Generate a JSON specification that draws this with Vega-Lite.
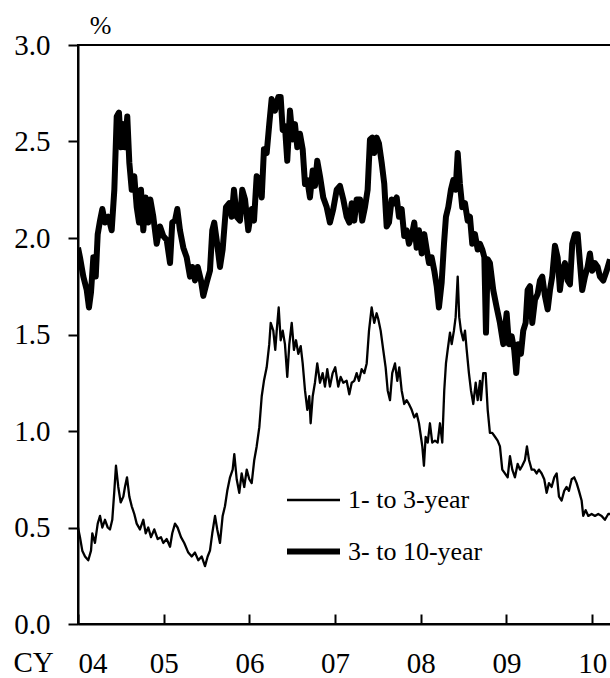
{
  "$schema": "https://vega.github.io/schema/vega-lite/v6.json",
  "autosize": {"type": "none"},
  "padding": {"left": 78, "top": 45, "right": 0, "bottom": 54},
  "width": 533,
  "height": 579,
  "background": "white",
  "config": {
    "font": "Liberation Serif",
    "view": {"stroke": "black", "strokeWidth": 2},
    "axis": {"grid": false, "domainColor": "black", "domainWidth": 2, "tickColor": "black", "tickWidth": 2, "labelColor": "black", "titleColor": "black", "labelFont": "Liberation Serif", "titleFont": "Liberation Serif", "labelFontSize": 29, "titleFontSize": 29, "titleFontWeight": "normal"}
  },
  "data": {"values": [
    {"series":"3- to 10-year","year":2004.000,"value":1.95},
    {"series":"3- to 10-year","year":2004.023,"value":1.90},
    {"series":"3- to 10-year","year":2004.062,"value":1.80},
    {"series":"3- to 10-year","year":2004.102,"value":1.73},
    {"series":"3- to 10-year","year":2004.128,"value":1.64},
    {"series":"3- to 10-year","year":2004.152,"value":1.72},
    {"series":"3- to 10-year","year":2004.179,"value":1.90},
    {"series":"3- to 10-year","year":2004.207,"value":1.80},
    {"series":"3- to 10-year","year":2004.230,"value":2.02},
    {"series":"3- to 10-year","year":2004.257,"value":2.09},
    {"series":"3- to 10-year","year":2004.284,"value":2.15},
    {"series":"3- to 10-year","year":2004.315,"value":2.08},
    {"series":"3- to 10-year","year":2004.354,"value":2.11},
    {"series":"3- to 10-year","year":2004.393,"value":2.04},
    {"series":"3- to 10-year","year":2004.424,"value":2.25},
    {"series":"3- to 10-year","year":2004.452,"value":2.63},
    {"series":"3- to 10-year","year":2004.478,"value":2.65},
    {"series":"3- to 10-year","year":2004.502,"value":2.47},
    {"series":"3- to 10-year","year":2004.529,"value":2.59},
    {"series":"3- to 10-year","year":2004.548,"value":2.47},
    {"series":"3- to 10-year","year":2004.575,"value":2.63},
    {"series":"3- to 10-year","year":2004.599,"value":2.39},
    {"series":"3- to 10-year","year":2004.627,"value":2.25},
    {"series":"3- to 10-year","year":2004.657,"value":2.32},
    {"series":"3- to 10-year","year":2004.685,"value":2.16},
    {"series":"3- to 10-year","year":2004.712,"value":2.08},
    {"series":"3- to 10-year","year":2004.735,"value":2.25},
    {"series":"3- to 10-year","year":2004.762,"value":2.04},
    {"series":"3- to 10-year","year":2004.790,"value":2.21},
    {"series":"3- to 10-year","year":2004.820,"value":2.08},
    {"series":"3- to 10-year","year":2004.844,"value":2.20},
    {"series":"3- to 10-year","year":2004.879,"value":2.11},
    {"series":"3- to 10-year","year":2004.918,"value":1.97},
    {"series":"3- to 10-year","year":2004.957,"value":2.06},
    {"series":"3- to 10-year","year":2004.995,"value":2.01},
    {"series":"3- to 10-year","year":2005.035,"value":1.99},
    {"series":"3- to 10-year","year":2005.074,"value":1.87},
    {"series":"3- to 10-year","year":2005.100,"value":2.08},
    {"series":"3- to 10-year","year":2005.132,"value":2.09},
    {"series":"3- to 10-year","year":2005.159,"value":2.15},
    {"series":"3- to 10-year","year":2005.190,"value":2.04},
    {"series":"3- to 10-year","year":2005.229,"value":1.95},
    {"series":"3- to 10-year","year":2005.268,"value":1.90},
    {"series":"3- to 10-year","year":2005.307,"value":1.80},
    {"series":"3- to 10-year","year":2005.334,"value":1.85},
    {"series":"3- to 10-year","year":2005.365,"value":1.78},
    {"series":"3- to 10-year","year":2005.397,"value":1.85},
    {"series":"3- to 10-year","year":2005.435,"value":1.78},
    {"series":"3- to 10-year","year":2005.462,"value":1.70},
    {"series":"3- to 10-year","year":2005.502,"value":1.77},
    {"series":"3- to 10-year","year":2005.540,"value":1.83},
    {"series":"3- to 10-year","year":2005.567,"value":2.04},
    {"series":"3- to 10-year","year":2005.590,"value":2.08},
    {"series":"3- to 10-year","year":2005.618,"value":1.99},
    {"series":"3- to 10-year","year":2005.657,"value":1.85},
    {"series":"3- to 10-year","year":2005.688,"value":1.94},
    {"series":"3- to 10-year","year":2005.727,"value":2.16},
    {"series":"3- to 10-year","year":2005.765,"value":2.18},
    {"series":"3- to 10-year","year":2005.793,"value":2.11},
    {"series":"3- to 10-year","year":2005.820,"value":2.25},
    {"series":"3- to 10-year","year":2005.852,"value":2.11},
    {"series":"3- to 10-year","year":2005.890,"value":2.09},
    {"series":"3- to 10-year","year":2005.917,"value":2.25},
    {"series":"3- to 10-year","year":2005.949,"value":2.20},
    {"series":"3- to 10-year","year":2005.987,"value":2.04},
    {"series":"3- to 10-year","year":2006.027,"value":2.15},
    {"series":"3- to 10-year","year":2006.054,"value":2.09},
    {"series":"3- to 10-year","year":2006.085,"value":2.32},
    {"series":"3- to 10-year","year":2006.116,"value":2.30},
    {"series":"3- to 10-year","year":2006.144,"value":2.21},
    {"series":"3- to 10-year","year":2006.170,"value":2.46},
    {"series":"3- to 10-year","year":2006.202,"value":2.44},
    {"series":"3- to 10-year","year":2006.232,"value":2.59},
    {"series":"3- to 10-year","year":2006.260,"value":2.72},
    {"series":"3- to 10-year","year":2006.299,"value":2.66},
    {"series":"3- to 10-year","year":2006.337,"value":2.73},
    {"series":"3- to 10-year","year":2006.365,"value":2.73},
    {"series":"3- to 10-year","year":2006.389,"value":2.56},
    {"series":"3- to 10-year","year":2006.415,"value":2.58},
    {"series":"3- to 10-year","year":2006.442,"value":2.40},
    {"series":"3- to 10-year","year":2006.474,"value":2.66},
    {"series":"3- to 10-year","year":2006.505,"value":2.51},
    {"series":"3- to 10-year","year":2006.532,"value":2.59},
    {"series":"3- to 10-year","year":2006.559,"value":2.47},
    {"series":"3- to 10-year","year":2006.590,"value":2.54},
    {"series":"3- to 10-year","year":2006.622,"value":2.46},
    {"series":"3- to 10-year","year":2006.649,"value":2.28},
    {"series":"3- to 10-year","year":2006.676,"value":2.30},
    {"series":"3- to 10-year","year":2006.707,"value":2.21},
    {"series":"3- to 10-year","year":2006.739,"value":2.35},
    {"series":"3- to 10-year","year":2006.765,"value":2.27},
    {"series":"3- to 10-year","year":2006.792,"value":2.40},
    {"series":"3- to 10-year","year":2006.824,"value":2.32},
    {"series":"3- to 10-year","year":2006.862,"value":2.21},
    {"series":"3- to 10-year","year":2006.902,"value":2.16},
    {"series":"3- to 10-year","year":2006.940,"value":2.08},
    {"series":"3- to 10-year","year":2006.979,"value":2.15},
    {"series":"3- to 10-year","year":2007.019,"value":2.25},
    {"series":"3- to 10-year","year":2007.057,"value":2.27},
    {"series":"3- to 10-year","year":2007.096,"value":2.20},
    {"series":"3- to 10-year","year":2007.135,"value":2.11},
    {"series":"3- to 10-year","year":2007.166,"value":2.08},
    {"series":"3- to 10-year","year":2007.194,"value":2.18},
    {"series":"3- to 10-year","year":2007.224,"value":2.09},
    {"series":"3- to 10-year","year":2007.252,"value":2.20},
    {"series":"3- to 10-year","year":2007.291,"value":2.20},
    {"series":"3- to 10-year","year":2007.317,"value":2.09},
    {"series":"3- to 10-year","year":2007.349,"value":2.16},
    {"series":"3- to 10-year","year":2007.380,"value":2.25},
    {"series":"3- to 10-year","year":2007.407,"value":2.51},
    {"series":"3- to 10-year","year":2007.434,"value":2.52},
    {"series":"3- to 10-year","year":2007.457,"value":2.44},
    {"series":"3- to 10-year","year":2007.485,"value":2.52},
    {"series":"3- to 10-year","year":2007.512,"value":2.49},
    {"series":"3- to 10-year","year":2007.544,"value":2.39},
    {"series":"3- to 10-year","year":2007.574,"value":2.28},
    {"series":"3- to 10-year","year":2007.602,"value":2.06},
    {"series":"3- to 10-year","year":2007.629,"value":2.08},
    {"series":"3- to 10-year","year":2007.660,"value":2.20},
    {"series":"3- to 10-year","year":2007.691,"value":2.18},
    {"series":"3- to 10-year","year":2007.719,"value":2.21},
    {"series":"3- to 10-year","year":2007.746,"value":2.11},
    {"series":"3- to 10-year","year":2007.777,"value":2.15},
    {"series":"3- to 10-year","year":2007.807,"value":2.01},
    {"series":"3- to 10-year","year":2007.835,"value":2.04},
    {"series":"3- to 10-year","year":2007.862,"value":1.97},
    {"series":"3- to 10-year","year":2007.894,"value":2.01},
    {"series":"3- to 10-year","year":2007.924,"value":2.08},
    {"series":"3- to 10-year","year":2007.952,"value":1.95},
    {"series":"3- to 10-year","year":2007.979,"value":2.04},
    {"series":"3- to 10-year","year":2008.011,"value":1.92},
    {"series":"3- to 10-year","year":2008.041,"value":2.02},
    {"series":"3- to 10-year","year":2008.069,"value":1.94},
    {"series":"3- to 10-year","year":2008.096,"value":1.87},
    {"series":"3- to 10-year","year":2008.127,"value":1.90},
    {"series":"3- to 10-year","year":2008.158,"value":1.83},
    {"series":"3- to 10-year","year":2008.186,"value":1.75},
    {"series":"3- to 10-year","year":2008.212,"value":1.64},
    {"series":"3- to 10-year","year":2008.244,"value":1.77},
    {"series":"3- to 10-year","year":2008.271,"value":1.97},
    {"series":"3- to 10-year","year":2008.294,"value":2.11},
    {"series":"3- to 10-year","year":2008.321,"value":2.16},
    {"series":"3- to 10-year","year":2008.352,"value":2.25},
    {"series":"3- to 10-year","year":2008.379,"value":2.30},
    {"series":"3- to 10-year","year":2008.407,"value":2.25},
    {"series":"3- to 10-year","year":2008.431,"value":2.44},
    {"series":"3- to 10-year","year":2008.457,"value":2.28},
    {"series":"3- to 10-year","year":2008.484,"value":2.16},
    {"series":"3- to 10-year","year":2008.516,"value":2.18},
    {"series":"3- to 10-year","year":2008.547,"value":2.09},
    {"series":"3- to 10-year","year":2008.574,"value":2.11},
    {"series":"3- to 10-year","year":2008.601,"value":1.97},
    {"series":"3- to 10-year","year":2008.632,"value":2.02},
    {"series":"3- to 10-year","year":2008.664,"value":1.94},
    {"series":"3- to 10-year","year":2008.691,"value":1.97},
    {"series":"3- to 10-year","year":2008.718,"value":1.94},
    {"series":"3- to 10-year","year":2008.742,"value":1.90},
    {"series":"3- to 10-year","year":2008.761,"value":1.51},
    {"series":"3- to 10-year","year":2008.781,"value":1.89},
    {"series":"3- to 10-year","year":2008.807,"value":1.87},
    {"series":"3- to 10-year","year":2008.846,"value":1.73},
    {"series":"3- to 10-year","year":2008.886,"value":1.64},
    {"series":"3- to 10-year","year":2008.924,"value":1.56},
    {"series":"3- to 10-year","year":2008.963,"value":1.45},
    {"series":"3- to 10-year","year":2009.002,"value":1.61},
    {"series":"3- to 10-year","year":2009.029,"value":1.45},
    {"series":"3- to 10-year","year":2009.061,"value":1.49},
    {"series":"3- to 10-year","year":2009.091,"value":1.42},
    {"series":"3- to 10-year","year":2009.114,"value":1.30},
    {"series":"3- to 10-year","year":2009.138,"value":1.45},
    {"series":"3- to 10-year","year":2009.169,"value":1.40},
    {"series":"3- to 10-year","year":2009.196,"value":1.52},
    {"series":"3- to 10-year","year":2009.224,"value":1.56},
    {"series":"3- to 10-year","year":2009.247,"value":1.73},
    {"series":"3- to 10-year","year":2009.274,"value":1.75},
    {"series":"3- to 10-year","year":2009.301,"value":1.56},
    {"series":"3- to 10-year","year":2009.333,"value":1.68},
    {"series":"3- to 10-year","year":2009.364,"value":1.71},
    {"series":"3- to 10-year","year":2009.391,"value":1.78},
    {"series":"3- to 10-year","year":2009.418,"value":1.80},
    {"series":"3- to 10-year","year":2009.449,"value":1.70},
    {"series":"3- to 10-year","year":2009.481,"value":1.63},
    {"series":"3- to 10-year","year":2009.508,"value":1.73},
    {"series":"3- to 10-year","year":2009.534,"value":1.80},
    {"series":"3- to 10-year","year":2009.566,"value":1.96},
    {"series":"3- to 10-year","year":2009.597,"value":1.90},
    {"series":"3- to 10-year","year":2009.624,"value":1.73},
    {"series":"3- to 10-year","year":2009.651,"value":1.83},
    {"series":"3- to 10-year","year":2009.683,"value":1.87},
    {"series":"3- to 10-year","year":2009.714,"value":1.78},
    {"series":"3- to 10-year","year":2009.741,"value":1.76},
    {"series":"3- to 10-year","year":2009.768,"value":1.97},
    {"series":"3- to 10-year","year":2009.799,"value":2.02},
    {"series":"3- to 10-year","year":2009.831,"value":2.02},
    {"series":"3- to 10-year","year":2009.858,"value":1.87},
    {"series":"3- to 10-year","year":2009.884,"value":1.73},
    {"series":"3- to 10-year","year":2009.916,"value":1.80},
    {"series":"3- to 10-year","year":2009.947,"value":1.85},
    {"series":"3- to 10-year","year":2009.974,"value":1.92},
    {"series":"3- to 10-year","year":2010.001,"value":1.83},
    {"series":"3- to 10-year","year":2010.033,"value":1.87},
    {"series":"3- to 10-year","year":2010.064,"value":1.85},
    {"series":"3- to 10-year","year":2010.091,"value":1.80},
    {"series":"3- to 10-year","year":2010.130,"value":1.78},
    {"series":"3- to 10-year","year":2010.169,"value":1.83},
    {"series":"3- to 10-year","year":2010.208,"value":1.89},
    {"series":"1- to 3-year","year":2004.000,"value":0.50},
    {"series":"1- to 3-year","year":2004.023,"value":0.45},
    {"series":"1- to 3-year","year":2004.050,"value":0.38},
    {"series":"1- to 3-year","year":2004.082,"value":0.35},
    {"series":"1- to 3-year","year":2004.120,"value":0.33},
    {"series":"1- to 3-year","year":2004.152,"value":0.38},
    {"series":"1- to 3-year","year":2004.167,"value":0.47},
    {"series":"1- to 3-year","year":2004.198,"value":0.42},
    {"series":"1- to 3-year","year":2004.230,"value":0.52},
    {"series":"1- to 3-year","year":2004.257,"value":0.56},
    {"series":"1- to 3-year","year":2004.284,"value":0.50},
    {"series":"1- to 3-year","year":2004.315,"value":0.54},
    {"series":"1- to 3-year","year":2004.347,"value":0.50},
    {"series":"1- to 3-year","year":2004.373,"value":0.49},
    {"series":"1- to 3-year","year":2004.400,"value":0.54},
    {"series":"1- to 3-year","year":2004.424,"value":0.69},
    {"series":"1- to 3-year","year":2004.443,"value":0.82},
    {"series":"1- to 3-year","year":2004.470,"value":0.71},
    {"series":"1- to 3-year","year":2004.498,"value":0.63},
    {"series":"1- to 3-year","year":2004.529,"value":0.66},
    {"series":"1- to 3-year","year":2004.548,"value":0.71},
    {"series":"1- to 3-year","year":2004.572,"value":0.76},
    {"series":"1- to 3-year","year":2004.599,"value":0.66},
    {"series":"1- to 3-year","year":2004.627,"value":0.61},
    {"series":"1- to 3-year","year":2004.657,"value":0.57},
    {"series":"1- to 3-year","year":2004.685,"value":0.52},
    {"series":"1- to 3-year","year":2004.723,"value":0.49},
    {"series":"1- to 3-year","year":2004.762,"value":0.54},
    {"series":"1- to 3-year","year":2004.790,"value":0.47},
    {"series":"1- to 3-year","year":2004.820,"value":0.50},
    {"series":"1- to 3-year","year":2004.852,"value":0.45},
    {"series":"1- to 3-year","year":2004.890,"value":0.49},
    {"series":"1- to 3-year","year":2004.930,"value":0.44},
    {"series":"1- to 3-year","year":2004.968,"value":0.45},
    {"series":"1- to 3-year","year":2004.995,"value":0.42},
    {"series":"1- to 3-year","year":2005.035,"value":0.44},
    {"series":"1- to 3-year","year":2005.074,"value":0.40},
    {"series":"1- to 3-year","year":2005.100,"value":0.47},
    {"series":"1- to 3-year","year":2005.132,"value":0.52},
    {"series":"1- to 3-year","year":2005.162,"value":0.50},
    {"series":"1- to 3-year","year":2005.202,"value":0.45},
    {"series":"1- to 3-year","year":2005.240,"value":0.42},
    {"series":"1- to 3-year","year":2005.287,"value":0.37},
    {"series":"1- to 3-year","year":2005.327,"value":0.35},
    {"series":"1- to 3-year","year":2005.365,"value":0.37},
    {"series":"1- to 3-year","year":2005.404,"value":0.33},
    {"series":"1- to 3-year","year":2005.443,"value":0.35},
    {"series":"1- to 3-year","year":2005.482,"value":0.30},
    {"series":"1- to 3-year","year":2005.513,"value":0.35},
    {"series":"1- to 3-year","year":2005.540,"value":0.38},
    {"series":"1- to 3-year","year":2005.567,"value":0.47},
    {"series":"1- to 3-year","year":2005.599,"value":0.56},
    {"series":"1- to 3-year","year":2005.625,"value":0.49},
    {"series":"1- to 3-year","year":2005.657,"value":0.42},
    {"series":"1- to 3-year","year":2005.688,"value":0.56},
    {"series":"1- to 3-year","year":2005.715,"value":0.61},
    {"series":"1- to 3-year","year":2005.742,"value":0.69},
    {"series":"1- to 3-year","year":2005.774,"value":0.76},
    {"series":"1- to 3-year","year":2005.805,"value":0.80},
    {"series":"1- to 3-year","year":2005.824,"value":0.88},
    {"series":"1- to 3-year","year":2005.852,"value":0.75},
    {"series":"1- to 3-year","year":2005.882,"value":0.68},
    {"series":"1- to 3-year","year":2005.910,"value":0.78},
    {"series":"1- to 3-year","year":2005.940,"value":0.71},
    {"series":"1- to 3-year","year":2005.969,"value":0.80},
    {"series":"1- to 3-year","year":2005.999,"value":0.75},
    {"series":"1- to 3-year","year":2006.027,"value":0.73},
    {"series":"1- to 3-year","year":2006.057,"value":0.85},
    {"series":"1- to 3-year","year":2006.085,"value":0.92},
    {"series":"1- to 3-year","year":2006.116,"value":1.02},
    {"series":"1- to 3-year","year":2006.144,"value":1.18},
    {"series":"1- to 3-year","year":2006.170,"value":1.26},
    {"series":"1- to 3-year","year":2006.202,"value":1.33},
    {"series":"1- to 3-year","year":2006.232,"value":1.45},
    {"series":"1- to 3-year","year":2006.249,"value":1.56},
    {"series":"1- to 3-year","year":2006.279,"value":1.52},
    {"series":"1- to 3-year","year":2006.302,"value":1.42},
    {"series":"1- to 3-year","year":2006.319,"value":1.52},
    {"series":"1- to 3-year","year":2006.342,"value":1.64},
    {"series":"1- to 3-year","year":2006.365,"value":1.47},
    {"series":"1- to 3-year","year":2006.389,"value":1.52},
    {"series":"1- to 3-year","year":2006.415,"value":1.45},
    {"series":"1- to 3-year","year":2006.442,"value":1.28},
    {"series":"1- to 3-year","year":2006.466,"value":1.45},
    {"series":"1- to 3-year","year":2006.494,"value":1.56},
    {"series":"1- to 3-year","year":2006.520,"value":1.42},
    {"series":"1- to 3-year","year":2006.544,"value":1.47},
    {"series":"1- to 3-year","year":2006.571,"value":1.40},
    {"series":"1- to 3-year","year":2006.599,"value":1.44},
    {"series":"1- to 3-year","year":2006.622,"value":1.35},
    {"series":"1- to 3-year","year":2006.649,"value":1.21},
    {"series":"1- to 3-year","year":2006.676,"value":1.11},
    {"series":"1- to 3-year","year":2006.699,"value":1.18},
    {"series":"1- to 3-year","year":2006.715,"value":1.04},
    {"series":"1- to 3-year","year":2006.739,"value":1.18},
    {"series":"1- to 3-year","year":2006.765,"value":1.25},
    {"series":"1- to 3-year","year":2006.792,"value":1.35},
    {"series":"1- to 3-year","year":2006.824,"value":1.25},
    {"series":"1- to 3-year","year":2006.855,"value":1.30},
    {"series":"1- to 3-year","year":2006.882,"value":1.23},
    {"series":"1- to 3-year","year":2006.909,"value":1.32},
    {"series":"1- to 3-year","year":2006.940,"value":1.23},
    {"series":"1- to 3-year","year":2006.972,"value":1.30},
    {"series":"1- to 3-year","year":2007.002,"value":1.33},
    {"series":"1- to 3-year","year":2007.037,"value":1.23},
    {"series":"1- to 3-year","year":2007.065,"value":1.28},
    {"series":"1- to 3-year","year":2007.096,"value":1.25},
    {"series":"1- to 3-year","year":2007.135,"value":1.26},
    {"series":"1- to 3-year","year":2007.166,"value":1.19},
    {"series":"1- to 3-year","year":2007.194,"value":1.25},
    {"series":"1- to 3-year","year":2007.224,"value":1.26},
    {"series":"1- to 3-year","year":2007.252,"value":1.30},
    {"series":"1- to 3-year","year":2007.279,"value":1.26},
    {"series":"1- to 3-year","year":2007.310,"value":1.32},
    {"series":"1- to 3-year","year":2007.341,"value":1.30},
    {"series":"1- to 3-year","year":2007.369,"value":1.35},
    {"series":"1- to 3-year","year":2007.396,"value":1.52},
    {"series":"1- to 3-year","year":2007.427,"value":1.64},
    {"series":"1- to 3-year","year":2007.457,"value":1.56},
    {"series":"1- to 3-year","year":2007.485,"value":1.61},
    {"series":"1- to 3-year","year":2007.504,"value":1.58},
    {"series":"1- to 3-year","year":2007.532,"value":1.52},
    {"series":"1- to 3-year","year":2007.562,"value":1.42},
    {"series":"1- to 3-year","year":2007.590,"value":1.33},
    {"series":"1- to 3-year","year":2007.614,"value":1.21},
    {"series":"1- to 3-year","year":2007.641,"value":1.16},
    {"series":"1- to 3-year","year":2007.667,"value":1.30},
    {"series":"1- to 3-year","year":2007.699,"value":1.35},
    {"series":"1- to 3-year","year":2007.726,"value":1.26},
    {"series":"1- to 3-year","year":2007.749,"value":1.33},
    {"series":"1- to 3-year","year":2007.777,"value":1.21},
    {"series":"1- to 3-year","year":2007.807,"value":1.14},
    {"series":"1- to 3-year","year":2007.835,"value":1.16},
    {"series":"1- to 3-year","year":2007.862,"value":1.14},
    {"series":"1- to 3-year","year":2007.894,"value":1.11},
    {"series":"1- to 3-year","year":2007.924,"value":1.07},
    {"series":"1- to 3-year","year":2007.952,"value":1.09},
    {"series":"1- to 3-year","year":2007.979,"value":1.04},
    {"series":"1- to 3-year","year":2008.002,"value":0.97},
    {"series":"1- to 3-year","year":2008.018,"value":0.92},
    {"series":"1- to 3-year","year":2008.037,"value":0.82},
    {"series":"1- to 3-year","year":2008.057,"value":0.97},
    {"series":"1- to 3-year","year":2008.081,"value":0.94},
    {"series":"1- to 3-year","year":2008.107,"value":1.04},
    {"series":"1- to 3-year","year":2008.134,"value":0.94},
    {"series":"1- to 3-year","year":2008.166,"value":0.95},
    {"series":"1- to 3-year","year":2008.197,"value":0.94},
    {"series":"1- to 3-year","year":2008.224,"value":1.04},
    {"series":"1- to 3-year","year":2008.251,"value":0.94},
    {"series":"1- to 3-year","year":2008.274,"value":1.21},
    {"series":"1- to 3-year","year":2008.294,"value":1.35},
    {"series":"1- to 3-year","year":2008.314,"value":1.42},
    {"series":"1- to 3-year","year":2008.341,"value":1.51},
    {"series":"1- to 3-year","year":2008.361,"value":1.45},
    {"series":"1- to 3-year","year":2008.387,"value":1.52},
    {"series":"1- to 3-year","year":2008.407,"value":1.59},
    {"series":"1- to 3-year","year":2008.431,"value":1.80},
    {"series":"1- to 3-year","year":2008.449,"value":1.59},
    {"series":"1- to 3-year","year":2008.469,"value":1.52},
    {"series":"1- to 3-year","year":2008.496,"value":1.47},
    {"series":"1- to 3-year","year":2008.516,"value":1.52},
    {"series":"1- to 3-year","year":2008.536,"value":1.42},
    {"series":"1- to 3-year","year":2008.562,"value":1.30},
    {"series":"1- to 3-year","year":2008.586,"value":1.21},
    {"series":"1- to 3-year","year":2008.613,"value":1.14},
    {"series":"1- to 3-year","year":2008.641,"value":1.25},
    {"series":"1- to 3-year","year":2008.664,"value":1.16},
    {"series":"1- to 3-year","year":2008.691,"value":1.26},
    {"series":"1- to 3-year","year":2008.702,"value":1.16},
    {"series":"1- to 3-year","year":2008.729,"value":1.30},
    {"series":"1- to 3-year","year":2008.757,"value":1.30},
    {"series":"1- to 3-year","year":2008.781,"value":1.11},
    {"series":"1- to 3-year","year":2008.807,"value":0.99},
    {"series":"1- to 3-year","year":2008.834,"value":0.99},
    {"series":"1- to 3-year","year":2008.866,"value":0.97},
    {"series":"1- to 3-year","year":2008.897,"value":0.95},
    {"series":"1- to 3-year","year":2008.924,"value":0.92},
    {"series":"1- to 3-year","year":2008.951,"value":0.80},
    {"series":"1- to 3-year","year":2008.982,"value":0.78},
    {"series":"1- to 3-year","year":2009.014,"value":0.76},
    {"series":"1- to 3-year","year":2009.041,"value":0.87},
    {"series":"1- to 3-year","year":2009.068,"value":0.80},
    {"series":"1- to 3-year","year":2009.099,"value":0.76},
    {"series":"1- to 3-year","year":2009.131,"value":0.83},
    {"series":"1- to 3-year","year":2009.158,"value":0.80},
    {"series":"1- to 3-year","year":2009.184,"value":0.82},
    {"series":"1- to 3-year","year":2009.216,"value":0.85},
    {"series":"1- to 3-year","year":2009.239,"value":0.92},
    {"series":"1- to 3-year","year":2009.263,"value":0.85},
    {"series":"1- to 3-year","year":2009.294,"value":0.80},
    {"series":"1- to 3-year","year":2009.324,"value":0.80},
    {"series":"1- to 3-year","year":2009.352,"value":0.78},
    {"series":"1- to 3-year","year":2009.379,"value":0.80},
    {"series":"1- to 3-year","year":2009.411,"value":0.78},
    {"series":"1- to 3-year","year":2009.441,"value":0.75},
    {"series":"1- to 3-year","year":2009.469,"value":0.68},
    {"series":"1- to 3-year","year":2009.496,"value":0.73},
    {"series":"1- to 3-year","year":2009.527,"value":0.71},
    {"series":"1- to 3-year","year":2009.558,"value":0.76},
    {"series":"1- to 3-year","year":2009.586,"value":0.78},
    {"series":"1- to 3-year","year":2009.613,"value":0.66},
    {"series":"1- to 3-year","year":2009.644,"value":0.64},
    {"series":"1- to 3-year","year":2009.674,"value":0.69},
    {"series":"1- to 3-year","year":2009.702,"value":0.71},
    {"series":"1- to 3-year","year":2009.729,"value":0.69},
    {"series":"1- to 3-year","year":2009.761,"value":0.75},
    {"series":"1- to 3-year","year":2009.791,"value":0.76},
    {"series":"1- to 3-year","year":2009.819,"value":0.73},
    {"series":"1- to 3-year","year":2009.846,"value":0.69},
    {"series":"1- to 3-year","year":2009.877,"value":0.64},
    {"series":"1- to 3-year","year":2009.896,"value":0.56},
    {"series":"1- to 3-year","year":2009.924,"value":0.59},
    {"series":"1- to 3-year","year":2009.955,"value":0.56},
    {"series":"1- to 3-year","year":2009.994,"value":0.57},
    {"series":"1- to 3-year","year":2010.033,"value":0.56},
    {"series":"1- to 3-year","year":2010.071,"value":0.57},
    {"series":"1- to 3-year","year":2010.111,"value":0.56},
    {"series":"1- to 3-year","year":2010.149,"value":0.54},
    {"series":"1- to 3-year","year":2010.188,"value":0.57},
    {"series":"1- to 3-year","year":2010.208,"value":0.57}
  ]},
  "mark": {"type": "line", "color": "black", "strokeCap": "butt", "strokeJoin": "round", "clip": true},
  "encoding": {
    "x": {
      "field": "year", "type": "quantitative",
      "scale": {"domain": [2004, 2010.22], "nice": false, "zero": false},
      "axis": {
        "values": [2004, 2005, 2006, 2007, 2008, 2009, 2010],
        "labelExpr": "substring(toString(datum.value), 2)",
        "tickSize": -10, "labelPadding": 58, "labelBaseline": "alphabetic",
        "title": "CY", "titleAnchor": "start", "titleAlign": "left", "titleX": -65, "titleY": 47, "titleBaseline": "alphabetic"
      }
    },
    "y": {
      "field": "value", "type": "quantitative",
      "scale": {"domain": [0, 3], "nice": false},
      "axis": {
        "values": [0, 0.5, 1, 1.5, 2, 2.5, 3],
        "format": ".1f", "tickSize": 10, "labelPadding": 18,
        "title": "%", "titleAngle": 0, "titleAlign": "center", "titleBaseline": "alphabetic", "titleX": 22, "titleY": -12, "titleFontSize": 26
      }
    },
    "detail": {"field": "series"},
    "strokeWidth": {
      "field": "series", "type": "ordinal",
      "scale": {"domain": ["1- to 3-year", "3- to 10-year"], "range": [2.3, 6]},
      "legend": {
        "title": null, "orient": "none", "legendX": 206, "legendY": 427,
        "symbolType": "stroke", "symbolSize": 2809, "symbolStrokeColor": "black",
        "labelFontSize": 26, "labelFont": "Liberation Serif", "labelColor": "black", "labelOffset": 5,
        "rowPadding": 9, "padding": 0
      }
    }
  }
}
